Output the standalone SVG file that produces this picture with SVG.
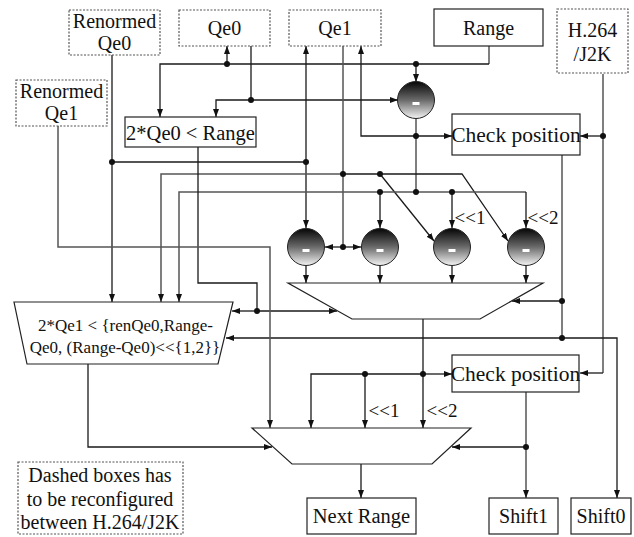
<svg xmlns="http://www.w3.org/2000/svg" width="634" height="537" viewBox="0 0 634 537">
<defs>
<marker id="ah" markerUnits="userSpaceOnUse" markerWidth="9" markerHeight="7" refX="8" refY="3" orient="auto">
<path d="M0,0 L8,3 L0,6 z" fill="#111"/>
</marker>
<linearGradient id="sg" x1="0" y1="0" x2="0" y2="1">
<stop offset="0" stop-color="#050505"/>
<stop offset="0.5" stop-color="#6a6a6a"/>
<stop offset="1" stop-color="#f4f4f4"/>
</linearGradient>
<g id="sub">
<circle r="18.5" fill="url(#sg)" stroke="#222" stroke-width="1"/>
<rect x="-3.5" y="2" width="7" height="3" fill="#fff"/>
</g>
</defs>
<style>
.t{font-family:"Liberation Serif","Times New Roman",serif;fill:#111;text-anchor:middle}
.s{fill:#fff;stroke:#222;stroke-width:1.2}
.d{fill:#fff;stroke:#555;stroke-width:1.2;stroke-dasharray:2,1.5}
.k{fill:none;stroke:#1a1a1a;stroke-width:1.3}
.g{fill:none;stroke:#555;stroke-width:1.5}
.a{marker-end:url(#ah)}
.dot{fill:#111}
</style>
<rect width="634" height="537" fill="#fff"/>

<g id="connectors">
<!-- Range output -->
<path class="g" d="M489,46 V64"/>
<path class="k a" d="M489,64 H160 V117"/>
<path class="k a" d="M227,64 V46"/>
<path class="k a" d="M416,64 V82"/>
<!-- Qe0 output -->
<path class="k" d="M251,46 V100"/>
<path class="k a" d="M251,100 H216 V117"/>
<path class="k a" d="M251,100 H398"/>
<!-- top subtractor output -->
<path class="g" d="M416,118.5 V192"/>
<path class="k a" d="M416,136 H361 V46"/>
<path class="k a" d="M416,136 H452"/>
<!-- H.264/J2K -->
<path class="g" d="M603,74 V373"/>
<path class="k a" d="M603,373 H580"/>
<path class="k a" d="M603,136 H580"/>
<!-- Renormed Qe0 -->
<path class="k a" d="M112,55 V302"/>
<path class="k" d="M112,162 H306"/>
<path class="k a" d="M306,162 V46"/>
<path class="k a" d="M306,162 V228"/>
<!-- Qe1 output -->
<path class="g" d="M343,46 V247"/>
<path class="k a" d="M343,247 H325"/>
<path class="k a" d="M343,247 H361"/>
<path class="g a" d="M343,174 H161 V302"/>
<path class="k a" d="M343,174 H462 L508,241"/>
<path class="k a" d="M380,174 L434,241"/>
<!-- Range-Qe0 bus -->
<path class="g a" d="M416,192 H179 V302"/>
<path class="g" d="M416,192 H526"/>
<path class="k a" d="M526,192 V228"/>
<path class="k a" d="M380,192 V228"/>
<path class="k a" d="M452,192 V228"/>
<!-- subtractor outputs -->
<path class="k a" d="M306,265.5 V283"/>
<path class="k a" d="M380,265.5 V283"/>
<path class="k a" d="M452,265.5 V283"/>
<path class="k a" d="M526,265.5 V283"/>
<!-- 2*Qe0 < Range output -->
<path class="k" d="M198,147 V283 H257 V311"/>
<path class="k a" d="M257,311 H232"/>
<path class="k a" d="M257,311 H337"/>
<!-- mux1 output -->
<path class="k a" d="M423,319 V428"/>
<path class="k a" d="M423,374 H311 V428"/>
<path class="k a" d="M365,374 V428"/>
<path class="k a" d="M423,374 H452"/>
<!-- check position (top) output -->
<path class="g" d="M562,155 V338"/>
<path class="k a" d="M562,301 H512"/>
<path class="k a" d="M562,338 H226"/>
<path class="k a" d="M562,338 H617 V498"/>
<!-- Renormed Qe1 -->
<path class="g a" d="M58,126 V247 H270 V428"/>
<!-- trapezoid output -->
<path class="k a" d="M88,364 V447 H272"/>
<!-- check position (bottom) output -->
<path class="g a" d="M526,392 V498"/>
<path class="k a" d="M526,447 H452"/>
<!-- mux2 output -->
<path class="k a" d="M361,464 V498"/>
<!-- junction dots -->
<g class="dot">
<circle cx="227" cy="64" r="3"/>
<circle cx="416" cy="64" r="3"/>
<circle cx="251" cy="100" r="3"/>
<circle cx="416" cy="136" r="3"/>
<circle cx="603" cy="136" r="3"/>
<circle cx="112" cy="162" r="3"/>
<circle cx="306" cy="162" r="3"/>
<circle cx="343" cy="174" r="3"/>
<circle cx="380" cy="174" r="3"/>
<circle cx="380" cy="192" r="3"/>
<circle cx="416" cy="192" r="3"/>
<circle cx="452" cy="192" r="3"/>
<circle cx="343" cy="247" r="3"/>
<circle cx="257" cy="311" r="3"/>
<circle cx="562" cy="301" r="3"/>
<circle cx="562" cy="338" r="3"/>
<circle cx="423" cy="374" r="3"/>
<circle cx="365" cy="374" r="3"/>
<circle cx="526" cy="447" r="3"/>
</g>
<g class="t" font-size="19">
<text x="470" y="224">&lt;&lt;1</text>
<text x="543" y="224">&lt;&lt;2</text>
<text x="384" y="417">&lt;&lt;1</text>
<text x="442" y="417">&lt;&lt;2</text>
</g>
</g>

<g id="renormed-qe0"><rect class="d" x="69" y="10" width="91" height="45"/><text class="t" font-size="20" x="114.5" y="28">Renormed</text><text class="t" font-size="20" x="114.5" y="50">Qe0</text></g>
<g id="renormed-qe1"><rect class="d" x="16" y="80" width="91" height="46"/><text class="t" font-size="20" x="61.5" y="98">Renormed</text><text class="t" font-size="20" x="61.5" y="120">Qe1</text></g>
<g id="qe0"><rect class="d" x="179" y="10" width="91" height="36"/><text class="t" font-size="20" x="224.5" y="35">Qe0</text></g>
<g id="qe1"><rect class="d" x="289" y="10" width="92" height="36"/><text class="t" font-size="20" x="335" y="35">Qe1</text></g>
<g id="range"><rect class="s" x="434" y="9" width="109" height="37"/><text class="t" font-size="20" x="488.5" y="35">Range</text></g>
<g id="h264"><rect class="d" x="557" y="9" width="71" height="64"/><text class="t" font-size="20" x="592.5" y="37">H.264</text><text class="t" font-size="20" x="592.5" y="61">/J2K</text></g>
<g id="cmp0"><rect class="s" x="125" y="117" width="131" height="30"/><text class="t" font-size="20.5" x="190.5" y="140">2*Qe0 &lt; Range</text></g>
<g id="check-top"><rect class="s" x="452" y="114" width="128" height="41"/><text class="t" font-size="21.5" x="516" y="142">Check position</text></g>
<g id="sub0"><use href="#sub" x="416" y="100"/></g>
<g id="sub1"><use href="#sub" x="306" y="247"/></g>
<g id="sub2"><use href="#sub" x="380" y="247"/></g>
<g id="sub3"><use href="#sub" x="452" y="247"/></g>
<g id="sub4"><use href="#sub" x="526" y="247"/></g>
<g id="mux1"><polygon class="s" points="288,283 543,283 480,319 352,319"/></g>
<g id="cmp1"><polygon class="s" points="14,302 233,302 218,364 27,364"/><text class="t" font-size="17" x="125.5" y="331">2*Qe1 &lt; {renQe0,Range-</text><text class="t" font-size="17" x="125" y="353">Qe0, (Range-Qe0)&lt;&lt;{1,2}}</text></g>
<g id="check-bot"><rect class="s" x="452" y="355" width="127" height="37"/><text class="t" font-size="21.5" x="515.5" y="381">Check position</text></g>
<g id="mux2"><polygon class="s" points="252,428 471,428 432,464 292,464"/></g>
<g id="next-range"><rect class="s" x="307" y="498" width="109" height="36"/><text class="t" font-size="20.5" x="361.5" y="523">Next Range</text></g>
<g id="shift1"><rect class="s" x="489" y="498" width="69" height="36"/><text class="t" font-size="20" x="523.5" y="523">Shift1</text></g>
<g id="shift0"><rect class="s" x="571" y="498" width="60" height="36"/><text class="t" font-size="20" x="601" y="523">Shift0</text></g>
<g id="note"><rect class="d" x="18" y="462" width="165" height="72"/><text class="t" font-size="20" x="100" y="482">Dashed boxes has</text><text class="t" font-size="20" x="100" y="506">to be reconfigured</text><text class="t" font-size="20" x="100" y="529">between H.264/J2K</text></g>
</svg>
